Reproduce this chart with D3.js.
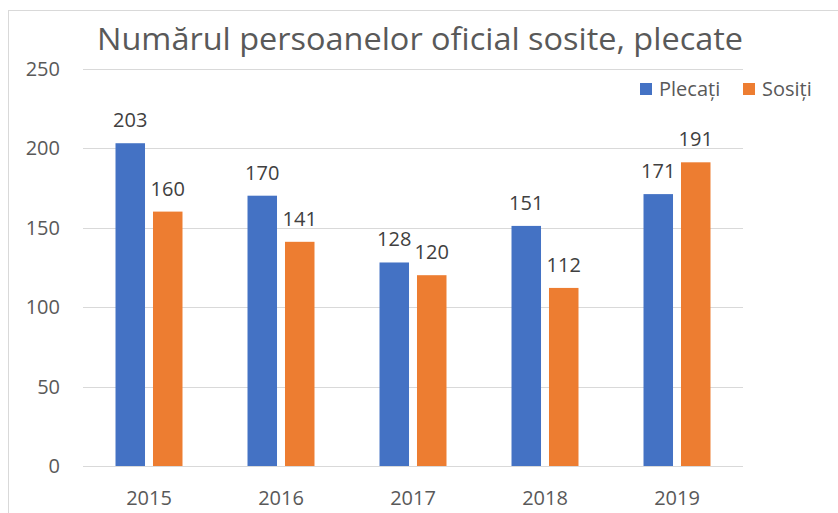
<!DOCTYPE html>
<html>
<head>
<meta charset="utf-8">
<script src="https://cdn.jsdelivr.net/npm/d3@7"></script>
<style>
  body { margin: 0; background: #fff; }
  text { font-family: "Open Sans", sans-serif; }
</style>
</head>
<body>
<div id="chart"></div>
<script>
// data
const years = ["2015", "2016", "2017", "2018", "2019"];
const seriesNames = ["Plecați", "Sosiți"];
const plecati = [203, 170, 128, 151, 171];
const sositi = [160, 141, 120, 112, 191];
const yTicks = [0, 50, 100, 150, 200, 250];
const colors = ["#4472C4", "#ED7D31"];

const width = 838, height = 513;
const margin = {top: 69, right: 95, bottom: 47, left: 83};

const svg = d3.select("#chart").append("svg")
    .attr("width", width)
    .attr("height", height);

// chart frame
svg.append("rect")
    .attr("x", 8.5).attr("y", 10.5)
    .attr("width", 840).attr("height", 520)
    .attr("fill", "none")
    .attr("stroke", "#D9D9D9");

const x0 = d3.scaleBand()
    .domain(years)
    .range([margin.left, width - margin.right]);

const x1 = d3.scaleBand()
    .domain(seriesNames)
    .range([0, x0.bandwidth()])
    .paddingInner(0.213)
    .paddingOuter(0.867);

const y = d3.scaleLinear()
    .domain([0, 250])
    .range([height - margin.bottom, margin.top - 0.5]);

// gridlines
svg.append("g")
    .selectAll("line")
    .data(yTicks)
    .join("line")
    .attr("x1", margin.left)
    .attr("x2", width - margin.right)
    .attr("y1", d => Math.round(y(d)) + 0.5)
    .attr("y2", d => Math.round(y(d)) + 0.5)
    .attr("stroke", "#D9D9D9")
    .attr("stroke-width", 1);

// y tick labels
svg.append("g")
    .selectAll("text")
    .data(yTicks)
    .join("text")
    .attr("x", 60)
    .attr("y", d => y(d) + 7)
    .attr("text-anchor", "end")
    .attr("font-size", 20)
    .attr("fill", "#595959")
    .text(d => d);

// x labels
svg.append("g")
    .selectAll("text")
    .data(years)
    .join("text")
    .attr("x", d => x0(d) + x0.bandwidth() / 2)
    .attr("y", 505)
    .attr("text-anchor", "middle")
    .attr("font-size", 20)
    .attr("fill", "#595959")
    .text(d => d);

// bars
const rows = years.map((yr, i) => ({
    year: yr,
    values: [plecati[i], sositi[i]].map((v, j) => ({name: seriesNames[j], value: v, color: colors[j]}))
}));

const groups = svg.append("g")
    .selectAll("g")
    .data(rows)
    .join("g")
    .attr("transform", d => `translate(${x0(d.year)},0)`);

groups.selectAll("rect")
    .data(d => d.values)
    .join("rect")
    .attr("x", d => x1(d.name))
    .attr("y", d => y(d.value))
    .attr("width", x1.bandwidth())
    .attr("height", d => y(0) - y(d.value))
    .attr("fill", d => d.color);

groups.selectAll("text")
    .data(d => d.values)
    .join("text")
    .attr("x", d => x1(d.name) + x1.bandwidth() / 2)
    .attr("y", d => y(d.value) - 16)
    .attr("text-anchor", "middle")
    .attr("font-size", 20)
    .attr("fill", "#404040")
    .text(d => d.value);

// title
svg.append("text")
    .attr("x", 420)
    .attr("y", 50)
    .attr("text-anchor", "middle")
    .attr("font-size", 31)
    .attr("textLength", 646)
    .attr("lengthAdjust", "spacingAndGlyphs")
    .attr("fill", "#595959")
    .text("Numărul persoanelor oficial sosite, plecate");

// legend
const legendX = [640, 743];
const legend = svg.append("g")
    .selectAll("g")
    .data(seriesNames)
    .join("g")
    .attr("transform", (d, i) => `translate(${legendX[i]},83)`);

legend.append("rect")
    .attr("width", 12).attr("height", 12)
    .attr("fill", (d, i) => colors[i]);

legend.append("text")
    .attr("x", 19)
    .attr("y", 13)
    .attr("font-size", 20)
    .attr("fill", "#595959")
    .text(d => d);
</script>
</body>
</html>
